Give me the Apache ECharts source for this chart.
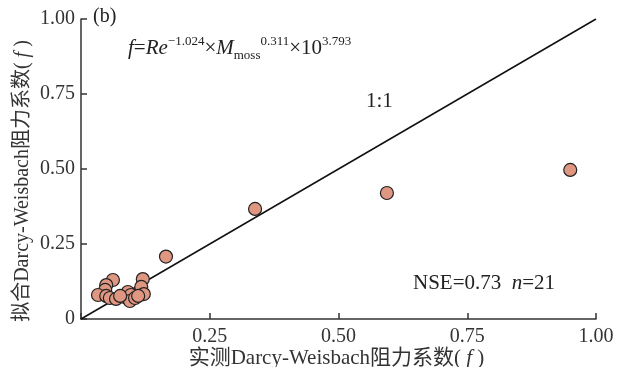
<!DOCTYPE html>
<html><head><meta charset="utf-8">
<script src="https://cdn.jsdelivr.net/npm/echarts@6/dist/echarts.min.js"></script>
<style>html,body{margin:0;padding:0;background:#fff}#c{width:622px;height:367px}</style>
</head><body><div id="c"></div>
<script>
// measured f (x) and fitted f (y)
const measuredF = [0.062,0.049,0.047,0.033,0.049,0.056,0.068,0.085,0.091,0.097,0.095,0.105,0.120,0.117,0.122,0.111,0.076,0.165,0.338,0.594,0.950];
const fittedF   = [0.130,0.113,0.097,0.080,0.077,0.070,0.067,0.073,0.090,0.080,0.060,0.070,0.133,0.107,0.083,0.077,0.077,0.208,0.367,0.420,0.497];
const oneToOneX = [0, 1];
const oneToOneY = [0, 1];
const tickValues = [0, 0.25, 0.5, 0.75, 1.0];
const xTickLabels = ['', '0.25', '0.50', '0.75', '1.00'];
const yTickLabels = ['0', '0.25', '0.50', '0.75', '1.00'];

const FONT = '"Liberation Serif", "Times New Roman", "Noto Sans CJK SC", serif';
const chart = echarts.init(document.getElementById('c'));
const pts = measuredF.map((v,i)=>[v, fittedF[i]]);
const line = oneToOneX.map((v,i)=>[v, oneToOneY[i]]);
function lab(list){ return v => { const i = tickValues.findIndex(t=>Math.abs(t-v)<1e-9); return i<0?'':list[i]; }; }
const axisCommon = {
  min: 0, max: 1, interval: 0.25,
  axisLine: {show: true, lineStyle: {color: '#333', width: 1.5}},
  axisTick: {show: true, inside: true, length: 6, lineStyle: {color: '#333', width: 1.5}},
  splitLine: {show: false},
  nameLocation: 'middle',
  nameMoveOverlap: false,
};
function nameStyle(sz, pad){ return {fontFamily: FONT, fontSize: sz, color: '#333', padding: pad, rich: {i: {fontStyle: 'italic', fontFamily: FONT, fontSize: sz, color: '#333'}}}; }
chart.setOption({
  animation: false,
  grid: {left: 81, right: 26, top: 19, bottom: 48, containLabel: false, outerBoundsMode: 'none'},
  xAxis: Object.assign({}, axisCommon, {
    type: 'value',
    axisLabel: {formatter: lab(xTickLabels), fontFamily: FONT, fontSize: 20, color: '#333', margin: 8},
    name: '实测Darcy-Weisbach阻力系数( {i|f} )',
    nameGap: 29,
    nameTextStyle: nameStyle(21, [0, 4, 0, 0])
  }),
  yAxis: Object.assign({}, axisCommon, {
    type: 'value',
    axisLabel: {formatter: lab(yTickLabels), fontFamily: FONT, fontSize: 20, color: '#333', margin: 6},
    name: '拟合Darcy-Weisbach阻力系数( {i|f} )',
    nameGap: 48,
    nameTextStyle: nameStyle(20, [0, 24, 0, 0])
  }),
  series: [
    {type: 'line', data: line, symbol: 'none', lineStyle: {color: '#111', width: 1.5}, z: 1, silent: true},
    {type: 'scatter', data: pts, symbolSize: 13, itemStyle: {color: '#DF9782', borderColor: '#222', borderWidth: 1.2, opacity: 1}, z: 3}
  ],
  graphic: [
    {type: 'text', left: 93, top: 7, style: {text: '(b)', font: '20px ' + FONT, fill: '#222'}},
    {type: 'text', left: 128, top: 35, style: {
      text: '{i|f}{n|=}{i|Re}{sup|−1.024}{n|×}{i|M}{sub|moss}{sup|0.311}{n|×10}{sup|3.793}',
      rich: {
        i: {fontStyle: 'italic', fontFamily: FONT, fontSize: 21, fill: '#222', lineHeight: 27, verticalAlign: 'middle'},
        n: {fontFamily: FONT, fontSize: 21, fill: '#222', lineHeight: 27, verticalAlign: 'middle'},
        sup: {fontFamily: FONT, fontSize: 13, fill: '#222', lineHeight: 27, verticalAlign: 'top'},
        sub: {fontFamily: FONT, fontSize: 13, fill: '#222', lineHeight: 27, verticalAlign: 'bottom'}
      }
    }},
    {type: 'text', left: 366, top: 91, style: {text: '1:1', font: '21px ' + FONT, fill: '#222'}},
    {type: 'text', left: 413, top: 273, style: {
      text: '{n|NSE=0.73  }{i|n}{n|=21}',
      rich: {
        n: {fontFamily: FONT, fontSize: 21, fill: '#222'},
        i: {fontFamily: FONT, fontSize: 21, fontStyle: 'italic', fill: '#222'}
      }
    }}
  ]
});
</script></body></html>
